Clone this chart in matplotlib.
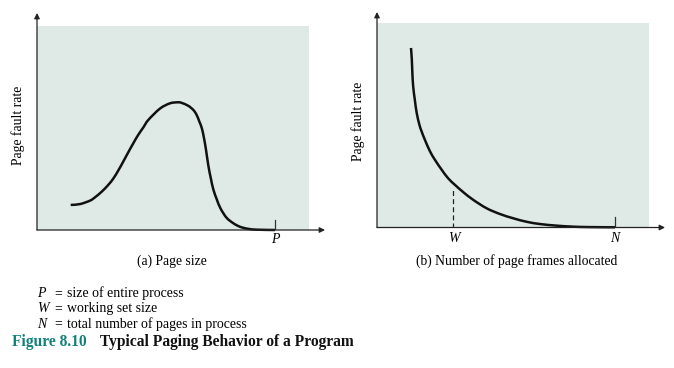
import matplotlib
matplotlib.use("Agg")
import matplotlib.pyplot as plt
from matplotlib.path import Path
from matplotlib.patches import PathPatch
import numpy as np

plt.rcParams['font.family'] = ['Liberation Serif', 'DejaVu Serif']

# Panel (a): page fault rate vs page size (0-100 scales)
page_size = [12.4, 15.8, 19.5, 21.3, 23.8, 26.2, 28.1, 29.9, 31.7, 33.6, 35.4, 37.2,
             39.1, 40.9, 45.2, 48.9, 51.9, 53.2, 55.6, 57.5, 58.7, 59.7, 60.6, 61.4,
             62.1, 63.0, 63.9, 64.8, 66.1, 67.5, 69.7, 72.2, 74.6, 77.5, 81.0, 87.5]
fault_a = [12.3, 12.7, 14.4, 16.0, 18.8, 22.1, 25.3, 29.2, 33.5, 38.2, 42.5, 46.6,
           50.3, 53.9, 59.5, 62.1, 62.6, 62.3, 60.9, 58.8, 56.4, 53.1, 49.9, 45.0,
           39.6, 31.5, 25.4, 20.0, 15.0, 10.5, 6.0, 3.3, 1.6, 0.6, 0.15, 0.0]

# Panel (b): page fault rate vs number of page frames allocated
frames = [12.5, 12.8, 13.0, 13.3, 13.9, 14.6, 15.6, 16.4, 17.6, 19.5, 21.3, 23.8, 26.2,
          28.7, 31.7, 35.4, 40.3, 45.2, 50.1, 55.0, 59.9, 66.1, 72.2, 78.3, 87.5]
fault_b = [87.8, 82.1, 75.6, 69.0, 62.5, 56.0, 50.2, 47.0, 42.9, 37.2, 33.1, 28.2, 24.0,
           20.8, 17.3, 13.5, 9.4, 6.6, 4.5, 2.8, 1.7, 0.9, 0.4, 0.2, 0.1]

P_pos = 87.5
W_pos = 28.1
W_val = 19.4
N_pos = 87.5

tick_labels_a = ['P']
tick_labels_b = ['W', 'N']
captions = ['(a) Page size', '(b) Number of page frames allocated']
ylabel = 'Page fault rate'
legend_lines = [('P', 'size of entire process'),
                ('W', 'working set size'),
                ('N', 'total number of pages in process')]

W_PX, H_PX = 674, 368
fig = plt.figure(figsize=(W_PX / 100, H_PX / 100), dpi=100)
fig.patch.set_facecolor('white')

shade = '#dfeae6'
teal = '#13807a'


def make_ax(left, top, right, bottom):
    ax = fig.add_axes([left / W_PX, 1 - bottom / H_PX, (right - left) / W_PX, (bottom - top) / H_PX])
    ax.set_facecolor(shade)
    for s in ax.spines.values():
        s.set_visible(False)
    ax.set_xticks([])
    ax.set_yticks([])
    ax.set_xlim(0, 100)
    ax.set_ylim(0, 100)
    return ax


def axis_arrows(ax, xtip, ytip):
    ap = dict(arrowstyle='-|>', color='#222222', lw=0.9, mutation_scale=8, shrinkA=0, shrinkB=0)
    ax.annotate('', xy=(xtip, 0), xytext=(0, 0), xycoords='axes fraction',
                arrowprops=ap, annotation_clip=False)
    ax.annotate('', xy=(0, ytip), xytext=(0, 0), xycoords='axes fraction',
                arrowprops=ap, annotation_clip=False)


def smooth_curve(ax, xs, ys):
    # Catmull-Rom through the read points, rendered as a cubic Bezier path
    pts = np.column_stack([xs, ys]).astype(float)
    n = len(pts)
    verts = [pts[0]]
    codes = [Path.MOVETO]
    for i in range(n - 1):
        p0 = pts[i - 1] if i > 0 else pts[i]
        p1 = pts[i]
        p2 = pts[i + 1]
        p3 = pts[i + 2] if i + 2 < n else pts[i + 1]
        c1 = p1 + (p2 - p0) / 6.0
        c2 = p2 - (p3 - p1) / 6.0
        verts += [c1, c2, p2]
        codes += [Path.CURVE4] * 3
    patch = PathPatch(Path(verts, codes), facecolor='none', edgecolor='#111111',
                      lw=1.8, capstyle='butt', clip_on=False)
    ax.add_patch(patch)


# Left panel
axa = make_ax(37, 26, 309, 230)
axis_arrows(axa, 1.059, 1.064)
smooth_curve(axa, page_size, fault_a)
axa.plot([P_pos, P_pos], [0, 5], color='#333333', lw=0.9)
axa.text(P_pos, -4.9, tick_labels_a[0], ha='center', va='center', fontsize=10, style='italic')
axa.text(-7.0, 51.5, ylabel, rotation=90, ha='center', va='center', fontsize=9.8)

# Right panel
axb = make_ax(377, 23, 649, 227.5)
axis_arrows(axb, 1.059, 1.054)
smooth_curve(axb, frames, fault_b)
axb.plot([W_pos, W_pos], [0, W_val], color='#222222', lw=0.9, ls=(0, (4, 2.5)))
axb.plot([N_pos, N_pos], [0, 5], color='#333333', lw=0.9)
axb.text(W_pos, -5.6, tick_labels_b[0], ha='center', va='center', fontsize=10, style='italic')
axb.text(N_pos, -5.6, tick_labels_b[1], ha='center', va='center', fontsize=10, style='italic')
axb.text(-7.0, 51.7, ylabel, rotation=90, ha='center', va='center', fontsize=9.8)

# Captions
fig.text(172 / W_PX, 1 - 261 / H_PX, captions[0], ha='center', va='center', fontsize=9.8)
fig.text(517 / W_PX, 1 - 261 / H_PX, captions[1], ha='center', va='center', fontsize=9.8)

# Legend text
for i, (sym, desc) in enumerate(legend_lines):
    y = 1 - (293.5 + i * 15.3) / H_PX
    fig.text(37 / W_PX, y, sym, ha='left', va='center', fontsize=10, style='italic')
    fig.text(54 / W_PX, y, '=', ha='left', va='center', fontsize=10)
    fig.text(67 / W_PX, y, desc, ha='left', va='center', fontsize=10)

# Figure title
fig.text(12 / W_PX, 1 - 342 / H_PX, 'Figure 8.10', ha='left', va='center',
         fontsize=11.2, fontweight='bold', color=teal)
fig.text(100 / W_PX, 1 - 342 / H_PX, 'Typical Paging Behavior of a Program', ha='left',
         va='center', fontsize=11.2, fontweight='bold', color='#111111')

fig.savefig('out.png', dpi=100, facecolor='white')
